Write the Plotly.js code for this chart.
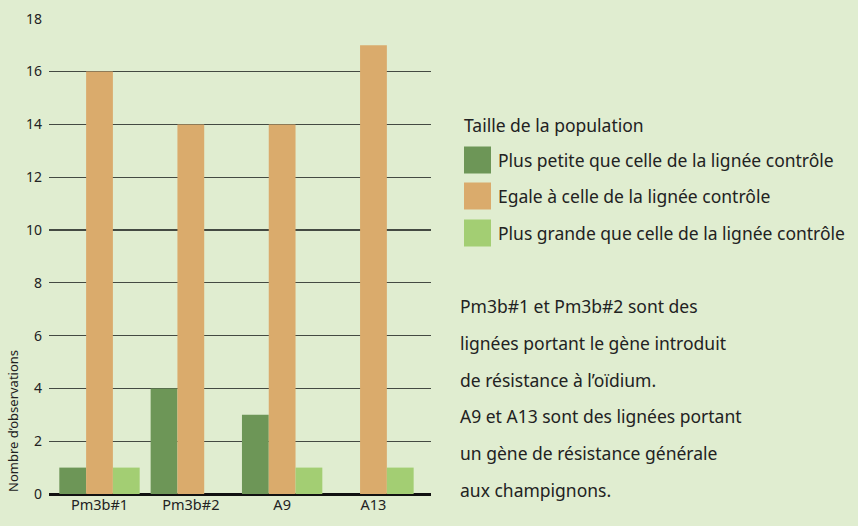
<!DOCTYPE html>
<html>
<head>
<meta charset="utf-8">
<script src="https://cdn.plot.ly/plotly-3.0.1.min.js"></script>
<style>
html,body{margin:0;padding:0;background:#e0edd0;}
#chart{width:858px;height:526px;}
</style>
</head>
<body>
<div id="chart"></div>
<script>
const categories = ["Pm3b#1", "Pm3b#2", "A9", "A13"];
const seriesNames = [
  "Plus petite que celle de la lignée contrôle",
  "Egale à celle de la lignée contrôle",
  "Plus grande que celle de la lignée contrôle"
];
const smaller = [1, 4, 3, 0];
const equal = [16, 14, 14, 17];
const larger = [1, 0, 1, 1];
const seriesColors = ["#6d9657", "#daab6c", "#a3ce73"];
const yTicks = [0, 2, 4, 6, 8, 10, 12, 14, 16, 18];
const legendTitle = "Taille de la population";
const yTitle = "Nombre d’observations";
const noteLines = [
  "Pm3b#1 et Pm3b#2 sont des",
  "lignées portant le gène introduit",
  "de résistance à l’oïdium.",
  "A9 et A13 sont des lignées portant",
  "un gène de résistance générale",
  "aux champignons."
];

const FONT = "'Noto Sans', 'Open Sans', sans-serif";
const values = [smaller, equal, larger];
const traces = values.map((v, i) => ({
  type: "bar",
  x: categories,
  y: v,
  name: seriesNames[i],
  marker: {color: seriesColors[i], line: {width: 0}},
  hoverinfo: "x+y+name"
}));

const W = 858, H = 526;
const ML = 49, MR = 427, MT = 18, MB = 32;
const PW = W - ML - MR, PH = H - MT - MB;
const px = (x) => (x - ML) / PW;
const py = (y) => (H - MB - y) / PH;

const shapes = [];
const annotations = [];
const TXT = {family: FONT, size: 17.5, color: "#222"};

annotations.push({
  xref: "paper", yref: "paper", x: px(462), y: py(125),
  xanchor: "left", yanchor: "middle", showarrow: false,
  text: legendTitle, font: TXT
});
const swY = [160, 196, 233];
seriesNames.forEach((n, i) => {
  shapes.push({
    type: "rect", xref: "paper", yref: "paper",
    x0: px(464), x1: px(491), y0: py(swY[i] - 13.5), y1: py(swY[i] + 13.5),
    fillcolor: seriesColors[i], line: {width: 0}, layer: "above"
  });
  annotations.push({
    xref: "paper", yref: "paper", x: px(496), y: py(swY[i]),
    xanchor: "left", yanchor: "middle", showarrow: false,
    text: n, font: TXT
  });
});
noteLines.forEach((t, i) => {
  annotations.push({
    xref: "paper", yref: "paper", x: px(458), y: py(306 + i * 36.8),
    xanchor: "left", yanchor: "middle", showarrow: false,
    text: t, font: TXT
  });
});
annotations.push({
  xref: "paper", yref: "paper", x: px(13), y: 0,
  xanchor: "center", yanchor: "bottom", textangle: -90, showarrow: false,
  text: yTitle, font: {family: FONT, size: 13, color: "#222"}
});

const layout = {
  width: W, height: H,
  paper_bgcolor: "#e0edd0", plot_bgcolor: "#e0edd0",
  margin: {l: ML, r: MR, t: MT, b: MB, pad: 0},
  barmode: "group", bargap: 0.12, bargroupgap: 0,
  showlegend: false,
  font: {family: FONT, color: "#222"},
  xaxis: {
    type: "category", range: [-0.553, 3.63], showgrid: false, zeroline: false,
    showline: false, ticks: "", tickfont: {family: FONT, size: 14.5, color: "#222"},
    fixedrange: true
  },
  yaxis: {
    range: [0, 18.03], tickvals: yTicks, ticktext: yTicks.map(String),
    showgrid: true, gridcolor: "#444a42", gridwidth: 1.3,
    zeroline: true, zerolinecolor: "#111", zerolinewidth: 3,
    showline: false, ticks: "", ticklabelstandoff: 6,
    tickfont: {family: FONT, size: 14, color: "#222"}, fixedrange: true
  },
  shapes: shapes,
  annotations: annotations
};

Plotly.newPlot("chart", traces, layout, {displayModeBar: false, staticPlot: true});
</script>
</body>
</html>
